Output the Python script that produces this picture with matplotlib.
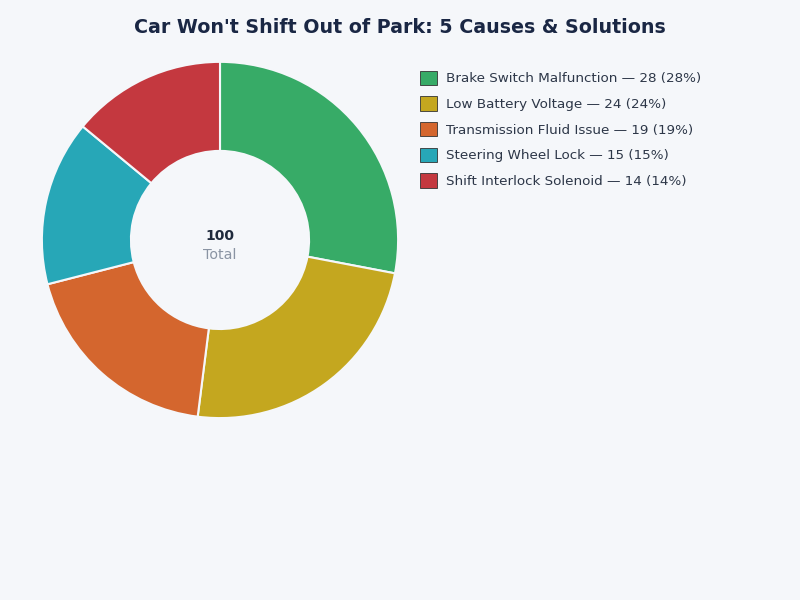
import matplotlib.pyplot as plt
from matplotlib.patches import Patch

labels = ['Brake Switch Malfunction', 'Low Battery Voltage', 'Transmission Fluid Issue',
          'Steering Wheel Lock', 'Shift Interlock Solenoid']
values = [28, 24, 19, 15, 14]
colors = ['#37ab67', '#c4a71f', '#d4662e', '#27a7b7', '#c4383f']

bg = '#f5f7fa'
total = sum(values)

fig = plt.figure(figsize=(8, 6), dpi=100, facecolor=bg)
ax = fig.add_axes([0.05125, 0.3017, 0.4475, 0.5967])
ax.set_facecolor(bg)

ax.pie(values, colors=colors, startangle=90, counterclock=False,
       wedgeprops=dict(width=0.5, edgecolor='#f5f7fa', linewidth=1.5))
ax.set_aspect('equal')
ax.set_xlim(-1.005, 1.005)
ax.set_ylim(-1.005, 1.005)

ax.text(0, 0.025, str(total), ha='center', va='center', fontsize=10,
        fontweight='bold', color='#1f2a3c')
ax.text(0, -0.085, 'Total', ha='center', va='center', fontsize=10.3, color='#8a94a3')

handles = [Patch(facecolor=c, edgecolor='#333333', linewidth=0.6) for c in colors]
leg_labels = [f'{l} \u2014 {v} ({v / total * 100:.0f}%)' for l, v in zip(labels, values)]
fig.legend(handles, leg_labels, loc='upper left', bbox_to_anchor=(0.51, 0.9025),
           frameon=False, fontsize=9.7, labelcolor='#2d3748',
           handlelength=1.25, handleheight=1.25, handletextpad=0.7, labelspacing=0.82)

fig.suptitle("Car Won't Shift Out of Park: 5 Causes & Solutions", y=0.97,
             fontsize=13.7, fontweight='bold', color='#1a2744')

fig.savefig('out.png', facecolor=bg)
